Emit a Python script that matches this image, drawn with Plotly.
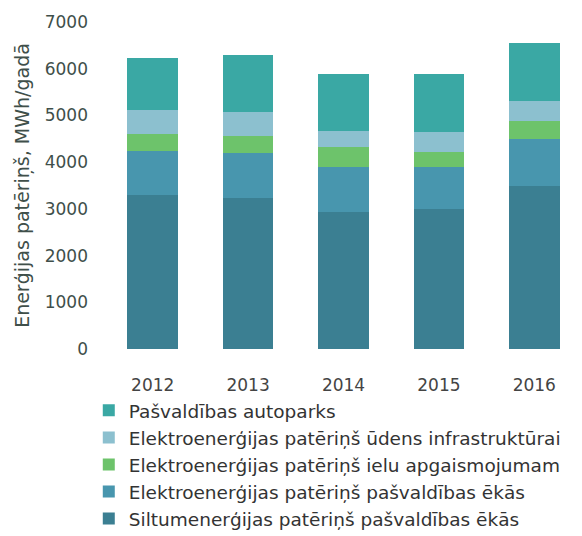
import plotly.graph_objects as go

# data (MWh per year)
years = ["2012", "2013", "2014", "2015", "2016"]
siltumenergija_ekas = [3300, 3240, 2940, 3000, 3480]
elektro_ekas = [945, 965, 965, 900, 1010]
elektro_apgaismojums = [365, 345, 410, 325, 385]
elektro_udens = [515, 515, 345, 430, 430]
autoparks = [1095, 1225, 1220, 1225, 1245]

series = [
    ("Siltumenerģijas patēriņš pašvaldības ēkās", siltumenergija_ekas, "#3B7F92"),
    ("Elektroenerģijas patēriņš pašvaldības ēkās", elektro_ekas, "#4896AE"),
    ("Elektroenerģijas patēriņš ielu apgaismojumam", elektro_apgaismojums, "#6DC36B"),
    ("Elektroenerģijas patēriņš ūdens infrastruktūrai", elektro_udens, "#8CC0CF"),
    ("Pašvaldības autoparks", autoparks, "#3AA8A4"),
]

fig = go.Figure()
for name, vals, col in series:
    fig.add_trace(go.Bar(x=years, y=vals, name=name, marker_color=col, marker_line_width=0))

# page body has an 8px margin, so the figure is a bit smaller than the window
fig.update_layout(
    barmode="stack",
    bargap=0.47,
    width=574,
    height=528,
    margin=dict(l=97, r=0, t=14, b=187, autoexpand=False),
    plot_bgcolor="white",
    paper_bgcolor="white",
    font=dict(family="DejaVu Sans", size=17, color="#444444"),
    showlegend=True,
    legend=dict(
        traceorder="reversed",
        orientation="v",
        x=-0.034, xanchor="left",
        y=-0.131, yanchor="top",
        font=dict(size=18.5, color="#333333"),
        tracegroupgap=0,
        itemwidth=30,
    ),
)

fig.update_yaxes(
    range=[0, 7000],
    dtick=1000,
    showgrid=False,
    zeroline=False,
    showline=False,
    automargin=False,
    ticklabelstandoff=16,
    tickfont=dict(size=17, color="#3f4f4a"),
    title=dict(text="Enerģijas patēriņš, MWh/gadā", font=dict(size=19, color="#3f4f4a"), standoff=10),
)
fig.update_xaxes(
    showgrid=False,
    showline=False,
    automargin=False,
    ticklabelstandoff=24,
    tickfont=dict(size=17, color="#444444"),
)

fig.write_html("out.html")
